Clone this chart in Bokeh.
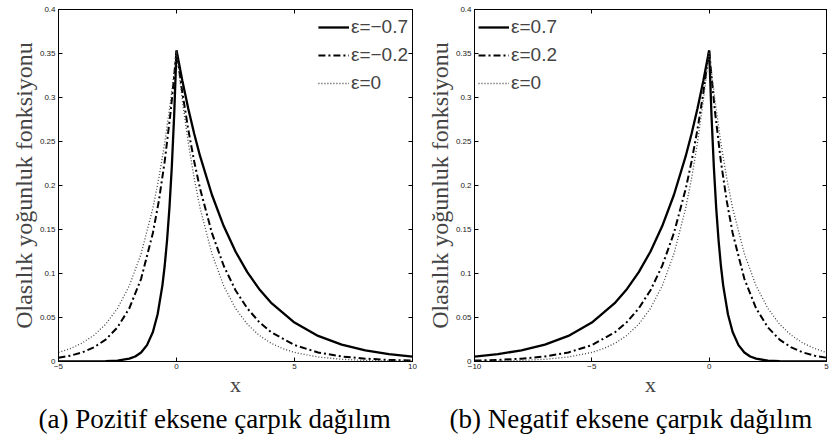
from bokeh.plotting import figure
from bokeh.layouts import row
from bokeh.models import LinearAxis, FixedTicker, Title, Legend, LegendItem, Range1d
from bokeh.embed import file_html
from bokeh.resources import INLINE

# ---------------- data ----------------
# panel (a): positively skewed
xa_m07 = [-5, -4, -3, -2.5, -2, -1.75, -1.5, -1.25, -1, -0.8, -0.6, -0.5, -0.4, -0.3, -0.2, -0.1, 0,
          0.25, 0.5, 0.75, 1, 1.5, 2, 2.5, 3, 3.5, 4, 5, 6, 7, 8, 9, 10]
ya_m07 = [0.0000, 0.0000, 0.0003, 0.0010, 0.0032, 0.0057, 0.0103, 0.0186, 0.0335, 0.0537, 0.0860, 0.1088,
          0.1378, 0.1743, 0.2207, 0.2793, 0.3536,
          0.3187, 0.2872, 0.2588, 0.2333, 0.1895, 0.1539, 0.1250, 0.1015, 0.0825, 0.0670,
          0.0442, 0.0291, 0.0192, 0.0127, 0.0084, 0.0055]

xa_m02 = [-5, -4.5, -4, -3.5, -3, -2.5, -2, -1.5, -1, -0.75, -0.5, -0.25, -0.1, 0,
          0.25, 0.5, 0.75, 1, 1.5, 2, 2.5, 3, 3.5, 4, 5, 6, 7, 8, 9, 10]
ya_m02 = [0.0043, 0.0066, 0.0103, 0.0160, 0.0249, 0.0388, 0.0604, 0.0939, 0.1461, 0.1822, 0.2273, 0.2835,
          0.3237, 0.3536,
          0.3052, 0.2634, 0.2273, 0.1962, 0.1461, 0.1088, 0.0810, 0.0604, 0.0450, 0.0335,
          0.0186, 0.0103, 0.0057, 0.0032, 0.0018, 0.0010]

xa_0 = [-5, -4.5, -4, -3.5, -3, -2.5, -2, -1.5, -1, -0.75, -0.5, -0.25, -0.1, 0,
        0.1, 0.25, 0.5, 0.75, 1, 1.5, 2, 2.5, 3, 3.5, 4, 4.5, 5, 6, 7, 8, 9, 10]
ya_0 = [0.0103, 0.0147, 0.0209, 0.0298, 0.0424, 0.0604, 0.0860, 0.1224, 0.1743, 0.2081, 0.2483, 0.2963,
        0.3294, 0.3536,
        0.3294, 0.2963, 0.2483, 0.2081, 0.1743, 0.1224, 0.0860, 0.0604, 0.0424, 0.0298, 0.0209, 0.0147,
        0.0103, 0.0051, 0.0025, 0.0012, 0.0006, 0.0003]

# panel (b): negatively skewed
xb_p07 = [-10, -9, -8, -7, -6, -5, -4, -3.5, -3, -2.5, -2, -1.5, -1, -0.75, -0.5, -0.25, 0,
          0.1, 0.2, 0.3, 0.4, 0.5, 0.6, 0.8, 1, 1.25, 1.5, 1.75, 2, 2.5, 3, 4, 5]
yb_p07 = [0.0055, 0.0084, 0.0127, 0.0192, 0.0291, 0.0442, 0.0670, 0.0825, 0.1015, 0.1250, 0.1539, 0.1895,
          0.2333, 0.2588, 0.2872, 0.3187, 0.3536,
          0.2793, 0.2207, 0.1743, 0.1378, 0.1088, 0.0860, 0.0537, 0.0335, 0.0186, 0.0103, 0.0057, 0.0032,
          0.0010, 0.0003, 0.0000, 0.0000]

xb_p02 = [-10, -9, -8, -7, -6, -5, -4, -3.5, -3, -2.5, -2, -1.5, -1, -0.75, -0.5, -0.25, 0,
          0.1, 0.25, 0.5, 0.75, 1, 1.5, 2, 2.5, 3, 3.5, 4, 4.5, 5]
yb_p02 = [0.0010, 0.0018, 0.0032, 0.0057, 0.0103, 0.0186, 0.0335, 0.0450, 0.0604, 0.0810, 0.1088, 0.1461,
          0.1962, 0.2273, 0.2634, 0.3052, 0.3536,
          0.3237, 0.2835, 0.2273, 0.1822, 0.1461, 0.0939, 0.0604, 0.0388, 0.0249, 0.0160, 0.0103, 0.0066,
          0.0043]

xb_0 = [-10, -9, -8, -7, -6, -5, -4.5, -4, -3.5, -3, -2.5, -2, -1.5, -1, -0.75, -0.5, -0.25, -0.1, 0,
        0.1, 0.25, 0.5, 0.75, 1, 1.5, 2, 2.5, 3, 3.5, 4, 4.5, 5]
yb_0 = [0.0003, 0.0006, 0.0012, 0.0025, 0.0051, 0.0103, 0.0147, 0.0209, 0.0298, 0.0424, 0.0604, 0.0860,
        0.1224, 0.1743, 0.2081, 0.2483, 0.2963, 0.3294, 0.3536,
        0.3294, 0.2963, 0.2483, 0.2081, 0.1743, 0.1224, 0.0860, 0.0604, 0.0424, 0.0298, 0.0209, 0.0147,
        0.0103]

legend_a = ["ε=−0.7", "ε=−0.2", "ε=0"]
legend_b = ["ε=0.7", "ε=0.2", "ε=0"]

xticks_a = [-5, 0, 5, 10]
xtick_labels_a = ["−5", "0", "5", "10"]
xticks_b = [-10, -5, 0, 5]
xtick_labels_b = ["−10", "−5", "0", "5"]
yticks = [0, 0.05, 0.1, 0.15, 0.2, 0.25, 0.3, 0.35, 0.4]
ytick_labels = ["0", "0.05", "0.1", "0.15", "0.2", "0.25", "0.3", "0.35", "0.4"]

caption_a = "(a) Pozitif eksene çarpık dağılım"
caption_b = "(b) Negatif eksene çarpık dağılım"
ylabel = "Olasılık yoğunluk fonksiyonu"
xlabel = "x"

STYLES = [
    dict(line_color="black", line_width=2.3),
    dict(line_color="black", line_width=2.0, line_dash="7 3 2 3"),
    dict(line_color="#444444", line_width=1.3, line_dash="1 2"),
]

SANS = "Liberation Sans"
SERIF = "Liberation Serif"


def style_axis(ax, ticks, labels):
    ax.ticker = FixedTicker(ticks=ticks)
    ax.major_label_overrides = dict(zip(ticks, labels))
    ax.major_tick_in = 4
    ax.major_tick_out = 0
    ax.minor_tick_line_color = None
    ax.axis_line_color = "black"
    ax.major_tick_line_color = "black"
    ax.major_label_text_font = SANS
    ax.major_label_text_font_size = "8px"
    ax.major_label_text_color = "#222222"


def hidden_axis(ticks):
    ax = LinearAxis(ticker=FixedTicker(ticks=ticks), major_tick_in=4, major_tick_out=0,
                    minor_tick_line_color=None, major_label_text_font_size="0px",
                    major_label_overrides={t: "" for t in ticks},
                    major_label_standoff=0, axis_label_standoff=0, axis_line_color="black")
    return ax


def make_panel(xr, xticks, xlabels, series, labels, legend_loc, caption, bl, br, fw, cap_off):
    p = figure(frame_width=fw, frame_height=352, x_range=Range1d(*xr), y_range=Range1d(0, 0.4),
               output_backend="svg", toolbar_location=None,
               min_border_left=bl, min_border_right=br, min_border_top=9, min_border_bottom=0,
               background_fill_color="white", border_fill_color="white")
    p.grid.visible = False
    p.outline_line_color = "black"

    xa = p.xaxis[0]
    style_axis(xa, xticks, xlabels)
    xa.major_label_standoff = 2
    xa.axis_label = xlabel
    xa.axis_label_text_font = SERIF
    xa.axis_label_text_font_size = "22px"
    xa.axis_label_text_font_style = "normal"
    xa.axis_label_standoff = 0

    ya = p.yaxis[0]
    style_axis(ya, yticks, ytick_labels)
    ya.major_label_standoff = 3
    ya.axis_label = ylabel
    ya.axis_label_text_font = SERIF
    ya.axis_label_text_font_size = "24px"
    ya.axis_label_text_font_style = "normal"
    ya.axis_label_standoff = 0

    p.add_layout(hidden_axis(xticks), "above")
    p.add_layout(hidden_axis(yticks), "right")

    items = []
    for (xs, ys), lab, st in zip(series, labels, STYLES):
        r = p.line(xs, ys, **st)
        items.append(LegendItem(label=lab, renderers=[r]))

    leg = Legend(items=items, location=legend_loc, border_line_color=None, background_fill_alpha=0,
                 label_text_font=SANS, label_text_font_size="19px", glyph_width=31, glyph_height=28,
                 label_height=28, label_standoff=2, spacing=0, padding=5, margin=4)
    p.add_layout(leg)

    cap = Title(text=caption, align="left", offset=cap_off, text_font=SERIF,
                text_font_size="27px", text_font_style="normal", text_color="black", standoff=4)
    p.add_layout(cap, "below")
    return p


pa = make_panel((-5, 10), xticks_a, xtick_labels_a,
                [(xa_m07, ya_m07), (xa_m02, ya_m02), (xa_0, ya_0)], legend_a,
                "top_right", caption_a, 58, 10, 354, -20)
pb = make_panel((-10, 5), xticks_b, xtick_labels_b,
                [(xb_p07, yb_p07), (xb_p02, yb_p02), (xb_0, yb_0)], legend_b,
                "top_left", caption_b, 52, 4, 352, -25)

layout = row(pa, pb)
open("out.html", "w").write(file_html(layout, INLINE))
